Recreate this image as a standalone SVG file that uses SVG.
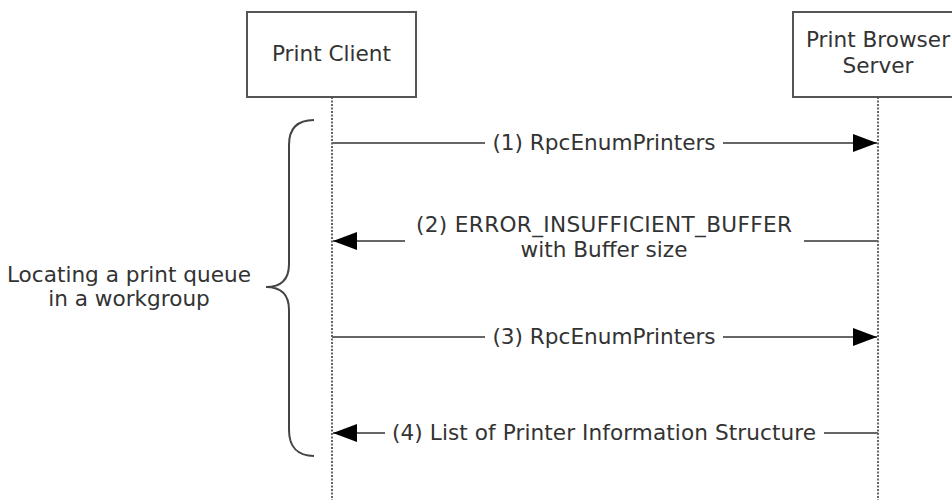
<svg xmlns="http://www.w3.org/2000/svg" width="952" height="500" viewBox="0 0 952 500">
<style>
  text { font-family: "DejaVu Sans", Verdana, "Liberation Sans", sans-serif; font-size: 21.6px; fill: #333; }
  .box { fill: #fff; stroke: #555; stroke-width: 2; }
  .life { stroke: #666; stroke-width: 2; stroke-dasharray: 2 1.5; fill: none; }
  .msg { stroke: #666; stroke-width: 2; fill: none; }
  .brace { stroke: #444; stroke-width: 2; fill: none; }
</style>
<defs>
  <marker id="ah" markerUnits="userSpaceOnUse" markerWidth="24" markerHeight="18" refX="24" refY="9" orient="auto">
    <path d="M0,0 L24,9 L0,18 z" fill="#000"/>
  </marker>
</defs>
<rect width="952" height="500" fill="#fff"/>
<g id="lifelines">
  <line class="life" x1="332" y1="97" x2="332" y2="500"/>
  <line class="life" x1="878" y1="97" x2="878" y2="500"/>
</g>
<g id="client">
  <rect class="box" x="247" y="12" width="169" height="85"/>
  <text x="331.5" y="61" text-anchor="middle">Print Client</text>
</g>
<g id="server">
  <rect class="box" x="793" y="12" width="170" height="85"/>
  <text x="878" y="47" text-anchor="middle">Print Browser</text>
  <text x="878" y="73" text-anchor="middle">Server</text>
</g>
<g id="connectors">
  <line class="msg" x1="332" y1="143" x2="485" y2="143"/>
  <line class="msg" x1="723" y1="143" x2="877" y2="143" marker-end="url(#ah)"/>
  <line class="msg" x1="405" y1="241" x2="333" y2="241" marker-end="url(#ah)"/>
  <line class="msg" x1="804" y1="241" x2="878" y2="241"/>
  <line class="msg" x1="332" y1="337" x2="485" y2="337"/>
  <line class="msg" x1="723" y1="337" x2="877" y2="337" marker-end="url(#ah)"/>
  <line class="msg" x1="385" y1="433" x2="333" y2="433" marker-end="url(#ah)"/>
  <line class="msg" x1="824" y1="433" x2="878" y2="433"/>
</g>
<g id="labels">
  <text x="604" y="150" text-anchor="middle">(1) RpcEnumPrinters</text>
  <text x="604" y="232" text-anchor="middle" textLength="376" lengthAdjust="spacing">(2) ERROR_INSUFFICIENT_BUFFER</text>
  <text x="604" y="257" text-anchor="middle">with Buffer size</text>
  <text x="604" y="344" text-anchor="middle">(3) RpcEnumPrinters</text>
  <text x="604" y="440" text-anchor="middle" textLength="424" lengthAdjust="spacing">(4) List of Printer Information Structure</text>
</g>
<g id="group-brace">
  <path class="brace" d="M314,120 C298,120 289,128 289,145 L289,264 C289,279 281,287 266,287 C281,287 289,295 289,310 L289,430 C289,447 298,456 314,456"/>
  <text x="129" y="282" text-anchor="middle">Locating a print queue</text>
  <text x="129" y="306" text-anchor="middle">in a workgroup</text>
</g>
</svg>
